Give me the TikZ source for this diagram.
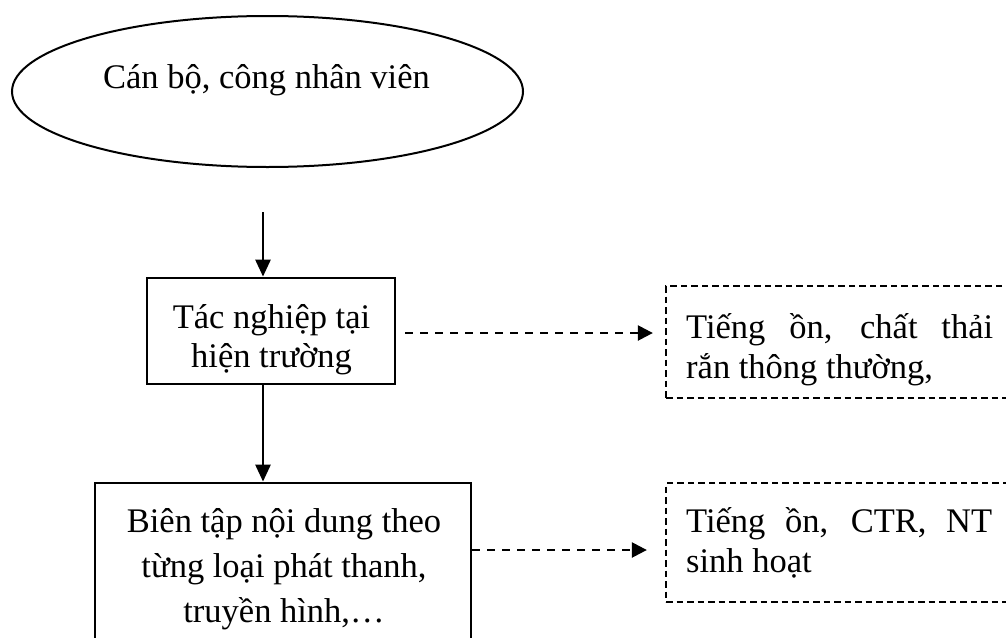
\documentclass[tikz,border=0pt]{standalone}
\usepackage{fontspec}
\setmainfont{Liberation Serif}
\usetikzlibrary{shapes.geometric,arrows.meta,calc}
\newcommand\tightlines{\setlength{\lineskiplimit}{-100pt}\setlength{\lineskip}{0pt}}
\newcommand\fsA{\fontsize{34.5}{40}\selectfont\tightlines}
\newcommand\fsB{\fontsize{34.5}{39}\selectfont\tightlines}
\newcommand\fsC{\fontsize{34.5}{45}\selectfont\tightlines}
\begin{document}
\begin{tikzpicture}[x=1pt,y=-1pt,
  lbl/.style={font=\fsA, inner sep=0pt},
  solidbox/.style={draw, line width=2.8pt, inner sep=0pt},
  dashbox/.style={draw, line width=2.3pt, dash pattern=on 6.5pt off 4pt, inner sep=0pt},
  flow/.style={line width=2.7pt, -{Triangle[length=17pt,width=15pt]}},
  dflow/.style={line width=2.4pt, dash pattern=on 8pt off 7pt, -{Triangle[length=15pt,width=15pt]}}]
\useasboundingbox (0,0) rectangle (1006,637);
\clip (0,0) rectangle (1006,637);
% ellipse
\node[draw, ellipse, line width=2pt, minimum width=511pt, minimum height=151pt, inner sep=0pt] (e) at (267.5,91.5) {};
\node[lbl, anchor=base] (et) at (266.5,88) {Cán bộ, công nhân viên};
% box 1
\node[solidbox, minimum width=248pt, minimum height=106pt] (b1) at (271,331) {};
\node[lbl, align=center, anchor=base, font=\fsB] (b1t) at (271.5,367) {Tác nghiệp tại\\hiện trường};
% box 2
\node[solidbox, minimum width=376pt, minimum height=177pt] (b2) at (283,571.5) {};
\node[lbl, align=center, anchor=base, font=\fsC] (b2t) at (284,622) {Biên tập nội dung theo\\từng loại phát thanh,\\truyền hình,\dots};
% dashed boxes
\node[dashbox, minimum width=364pt, minimum height=112pt] (d1) at (848,342) {};
\node[lbl, align=left, anchor=base west] (d1t) at (686,378) {\makebox[307pt][s]{Tiếng ồn, chất thải}\\rắn thông thường,};
\node[dashbox, minimum width=364pt, minimum height=119pt] (d2) at (848,542.5) {};
\node[lbl, align=left, anchor=base west] (d2t) at (686,572) {\makebox[306pt][s]{Tiếng ồn, CTR, NT}\\sinh hoạt};
% connectors
\coordinate (s0) at (263,212);
\draw[flow] (s0) -- (s0 |- b1.north);
\draw[flow] (s0 |- b1.south) -- (s0 |- b2.north);
\coordinate (s1) at (405,333);
\draw[dflow] (s1) -- ($(s1 -| d1.west)+(-12,0)$);
\coordinate (s2) at (471,550);
\draw[dflow] (b2.east |- s2) -- ($(s2 -| d2.west)+(-18,0)$);
\end{tikzpicture}
\end{document}
